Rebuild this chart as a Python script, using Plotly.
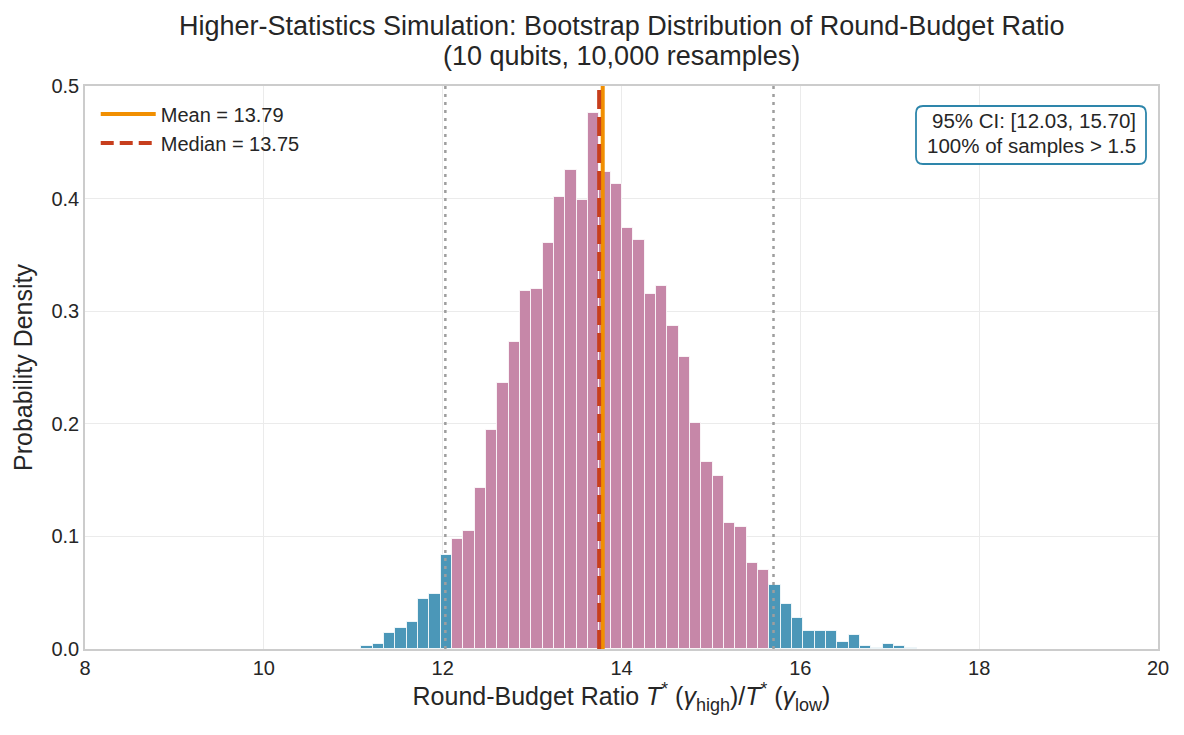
import plotly.graph_objects as go

# ---- data ----
bin_start = 11.089
bin_width = 0.1268
density = [0.0031, 0.0047, 0.0146, 0.0189, 0.0244, 0.0441, 0.0488, 0.0835, 0.0976, 0.1047,
           0.1433, 0.1945, 0.2361, 0.2724, 0.3181, 0.3197, 0.3606, 0.4016, 0.4252, 0.3992,
           0.4757, 0.4236, 0.4126, 0.3740, 0.3630, 0.3150, 0.3228, 0.2866, 0.2591, 0.2008,
           0.1661, 0.1535, 0.1118, 0.1087, 0.0764, 0.0701, 0.0567, 0.0402, 0.0276, 0.0157,
           0.0157, 0.0157, 0.0063, 0.0126, 0.0024, 0.0008, 0.0047, 0.0024, 0.0008]
mean_val = 13.79
median_val = 13.75
ci_low = 12.03
ci_high = 15.70
frac_above = 100
threshold = 1.5
x_ticks = [8, 10, 12, 14, 16, 18, 20]
y_ticks = [0.0, 0.1, 0.2, 0.3, 0.4, 0.5]
title_lines = ["Higher-Statistics Simulation: Bootstrap Distribution of Round-Budget Ratio",
               "(10 qubits, 10,000 resamples)"]

BLUE = "rgb(75,151,184)"
PINK = "rgb(198,135,168)"
ORANGE = "#F18F01"
RED = "#C73E1D"
TXT = "#262626"
FONT = "Liberation Sans, Arial, sans-serif"

# plot area in pixels (for layout only)
W, H = 1184, 735
ML, MR, MT, MB = 85, 26, 86, 86
PW, PH = W - ML - MR, H - MT - MB


def px_x(p):
    return (p - ML) / PW


def px_y(p):
    return (H - MB - p) / PH


lefts = [bin_start + i * bin_width for i in range(len(density))]
centers = [l + bin_width / 2 for l in lefts]
colors = [PINK if (l >= ci_low and l + bin_width <= ci_high + 0.01) else BLUE for l in lefts]

fig = go.Figure()
fig.add_trace(go.Bar(x=centers, y=density, width=bin_width,
                     marker=dict(color=colors, line=dict(color="rgba(255,255,255,0.8)", width=1)),
                     showlegend=False, hoverinfo="skip"))

for v in (ci_low, ci_high):
    fig.add_trace(go.Scatter(x=[v, v], y=[0, 0.5], mode="lines",
                             line=dict(color="rgb(158,158,158)", width=2.5, dash="3px,5px"),
                             showlegend=False, hoverinfo="skip"))

fig.add_trace(go.Scatter(x=[mean_val, mean_val], y=[0, 0.5], mode="lines",
                         line=dict(color=ORANGE, width=4), showlegend=False, hoverinfo="skip"))
fig.add_trace(go.Scatter(x=[median_val, median_val], y=[0, 0.5], mode="lines",
                         line=dict(color=RED, width=4, dash="19px,8px"), showlegend=False, hoverinfo="skip"))
# legend entries
fig.add_trace(go.Scatter(x=[None], y=[None], mode="lines",
                         line=dict(color=ORANGE, width=4), name=f"Mean = {mean_val:.2f}"))
fig.add_trace(go.Scatter(x=[None], y=[None], mode="lines",
                         line=dict(color=RED, width=4, dash="13px,6px"), name=f"Median = {median_val:.2f}"))

# rounded stats box
x0, x1 = px_x(916), px_x(1146)
y0, y1 = px_y(164), px_y(106)
rx, ry = 7 / PW, 7 / PH
path = (f"M {x0+rx},{y0} L {x1-rx},{y0} Q {x1},{y0} {x1},{y0+ry} L {x1},{y1-ry} "
        f"Q {x1},{y1} {x1-rx},{y1} L {x0+rx},{y1} Q {x0},{y1} {x0},{y1-ry} "
        f"L {x0},{y0+ry} Q {x0},{y0} {x0+rx},{y0} Z")
fig.add_shape(type="path", path=path, xref="paper", yref="paper",
              fillcolor="white", line=dict(color="#2E86AB", width=1.8), layer="above")
box_lines = [f"95% CI: [{ci_low:.2f}, {ci_high:.2f}]", f"{frac_above}% of samples > {threshold}"]
for txt, py in zip(box_lines, (121, 145)):
    fig.add_annotation(xref="paper", yref="paper", x=px_x(1138), y=px_y(py),
                       xanchor="right", yanchor="middle", text=txt, showarrow=False,
                       font=dict(family=FONT, size=20.5, color=TXT))

for txt, py in zip(title_lines, (26, 56)):
    fig.add_annotation(xref="paper", yref="paper", x=0.5, y=px_y(py),
                       xanchor="center", yanchor="middle", text=txt, showarrow=False,
                       font=dict(family=FONT, size=27, color=TXT))

xtitle = ("Round-Budget Ratio <i>T</i><sup>*</sup> (<i>γ</i>"
          "<sub><span style='font-size:18px'>high</span></sub>)/<i>T</i><sup>*</sup> (<i>γ</i>"
          "<sub><span style='font-size:18px'>low</span></sub>)")

fig.update_layout(
    width=W, height=H,
    margin=dict(l=ML, r=MR, t=MT, b=MB),
    paper_bgcolor="white", plot_bgcolor="white",
    font=dict(family=FONT, size=20, color=TXT),
    bargap=0,
    legend=dict(x=0.01, y=0.985, xanchor="left", yanchor="top", bgcolor="rgba(0,0,0,0)",
                font=dict(family=FONT, size=20, color=TXT), tracegroupgap=0, itemwidth=55),
    xaxis=dict(range=[8, 20], tickvals=x_ticks, ticktext=[str(t) for t in x_ticks],
               showgrid=True, gridcolor="#EBEBEB", gridwidth=1, zeroline=False,
               showline=True, linecolor="#CCCCCC", linewidth=1.5, mirror=True,
               ticks="", tickfont=dict(size=20),
               title=dict(text=xtitle, font=dict(size=25), standoff=8)),
    yaxis=dict(range=[0, 0.5], tickvals=y_ticks, ticktext=[f"{t:.1f}" for t in y_ticks],
               showgrid=True, gridcolor="#EBEBEB", gridwidth=1, zeroline=False,
               showline=True, linecolor="#CCCCCC", linewidth=1.5, mirror=True,
               ticks="", tickfont=dict(size=20),
               title=dict(text="Probability Density", font=dict(size=25), standoff=12)),
)

fig.write_html("out.html")
